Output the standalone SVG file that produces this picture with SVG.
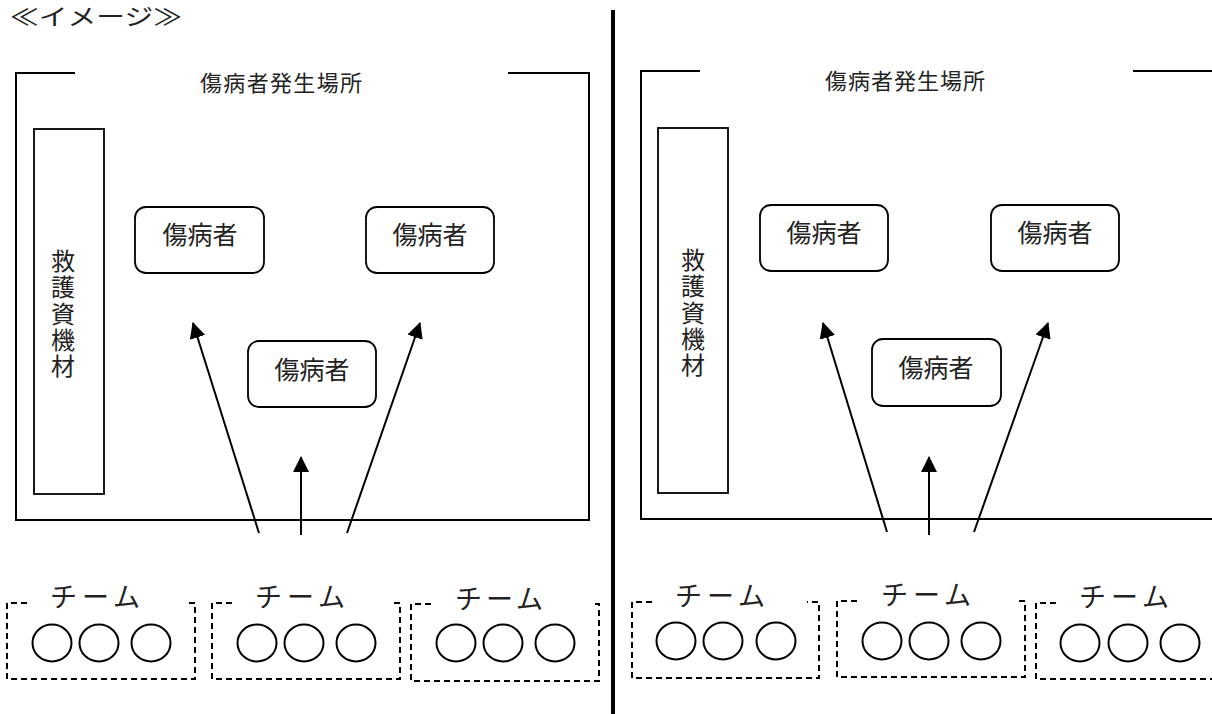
<svg xmlns="http://www.w3.org/2000/svg" width="1212" height="714" viewBox="0 0 1212 714">
<style>
  text { font-family: "Noto Sans CJK JP", "Noto Sans", sans-serif; fill: #222; }
  .frame { fill: none; stroke: #000; stroke-width: 2; }
  .box { fill: #fff; stroke: #000; stroke-width: 1.8; }
  .node { fill: #fff; stroke: #000; stroke-width: 1.8; }
  .lbl { font-size: 25px; text-anchor: middle; }
  .title { font-size: 22px; }
  .vert { font-size: 24px; writing-mode: vertical-rl; letter-spacing: 2.3px; }
  .team { fill: none; stroke: #000; stroke-width: 2; stroke-dasharray: 6 4; }
  .member { fill: #fff; stroke: #000; stroke-width: 2; }
  .tlbl { font-size: 27px; text-anchor: middle; }
  .arrow { fill: none; stroke: #000; stroke-width: 2; marker-end: url(#ah); }
</style>
<defs>
  <marker id="ah" markerUnits="userSpaceOnUse" markerWidth="16" markerHeight="16" viewBox="0 0 16 16" refX="15" refY="8" orient="auto">
    <path d="M0,0 L16,8 L0,16 z" fill="#000"/>
  </marker>
</defs>
<rect width="1212" height="714" fill="#fff"/>

<text x="10" y="25" font-size="23" textLength="172" lengthAdjust="spacingAndGlyphs">≪イメージ≫</text>

<!-- divider -->
<line x1="613" y1="10" x2="613" y2="714" stroke="#000" stroke-width="4"/>

<!-- LEFT PANEL -->
<g id="site-left">
  <path class="frame" d="M75,73 L16,73 L16,520 L589,520 L589,73 L508,73"/>
  <text class="title" x="200" y="91" textLength="162" lengthAdjust="spacing">傷病者発生場所</text>
</g>
<g id="equipment-left">
  <rect class="box" x="34" y="129" width="70" height="365"/>
  <text class="vert" x="63" y="249">救護資機材</text>
</g>
<g id="patient-l1">
  <rect class="node" x="135" y="207" width="129" height="66" rx="11"/>
  <text class="lbl" x="200" y="244">傷病者</text>
</g>
<g id="patient-l2">
  <rect class="node" x="366" y="207" width="128" height="66" rx="11"/>
  <text class="lbl" x="430" y="244">傷病者</text>
</g>
<g id="patient-l3">
  <rect class="node" x="248" y="341" width="128" height="66" rx="11"/>
  <text class="lbl" x="312" y="379">傷病者</text>
</g>

<!-- RIGHT PANEL -->
<g id="site-right">
  <path class="frame" d="M700,71 L641,71 L641,519 L1212,519"/>
  <line class="frame" x1="1133" y1="71" x2="1212" y2="71"/>
  <text class="title" x="825" y="89" textLength="160" lengthAdjust="spacing">傷病者発生場所</text>
</g>
<g id="equipment-right">
  <rect class="box" x="658" y="128" width="70" height="365"/>
  <text class="vert" x="693" y="248">救護資機材</text>
</g>
<g id="patient-r1">
  <rect class="node" x="760" y="205" width="128" height="66" rx="11"/>
  <text class="lbl" x="824" y="242">傷病者</text>
</g>
<g id="patient-r2">
  <rect class="node" x="991" y="205" width="128" height="66" rx="11"/>
  <text class="lbl" x="1055" y="242">傷病者</text>
</g>
<g id="patient-r3">
  <rect class="node" x="872" y="339" width="129" height="67" rx="11"/>
  <text class="lbl" x="936" y="377">傷病者</text>
</g>

<!-- TEAMS -->
<g id="team-1">
  <path class="team" d="M27,603 L7,603 L7,679 L195,679 L195,603 L187,603"/>
  <text class="tlbl" x="95" y="607" textLength="90" lengthAdjust="spacing">チーム</text>
  <ellipse class="member" cx="52" cy="643" rx="19.5" ry="18.5"/>
  <ellipse class="member" cx="99" cy="643" rx="19.5" ry="18.5"/>
  <ellipse class="member" cx="151" cy="643" rx="19.5" ry="18.5"/>
</g>
<g id="team-2">
  <path class="team" d="M232,603 L212,603 L212,679 L400,679 L400,603 L392,603"/>
  <text class="tlbl" x="300" y="607" textLength="90" lengthAdjust="spacing">チーム</text>
  <ellipse class="member" cx="257" cy="643" rx="19.5" ry="18.5"/>
  <ellipse class="member" cx="304" cy="643" rx="19.5" ry="18.5"/>
  <ellipse class="member" cx="356" cy="643" rx="19.5" ry="18.5"/>
</g>
<g id="team-3">
  <path class="team" d="M431,604 L411,604 L411,681 L599,681 L599,604 L591,604"/>
  <text class="tlbl" x="499" y="609" textLength="88" lengthAdjust="spacing">チーム</text>
  <ellipse class="member" cx="456" cy="643" rx="19.5" ry="18.5"/>
  <ellipse class="member" cx="503" cy="643" rx="19.5" ry="18.5"/>
  <ellipse class="member" cx="555" cy="643" rx="19.5" ry="18.5"/>
</g>
<g id="team-4">
  <path class="team" d="M652,602 L632,602 L632,678 L819,678 L819,602 L807,602"/>
  <text class="tlbl" x="720" y="606" textLength="90" lengthAdjust="spacing">チーム</text>
  <ellipse class="member" cx="676" cy="641" rx="19.5" ry="18.5"/>
  <ellipse class="member" cx="723" cy="641" rx="19.5" ry="18.5"/>
  <ellipse class="member" cx="776" cy="641" rx="19.5" ry="18.5"/>
</g>
<g id="team-5">
  <path class="team" d="M857,601 L837,601 L837,677 L1025,677 L1025,601 L1017,601"/>
  <text class="tlbl" x="926" y="605" textLength="90" lengthAdjust="spacing">チーム</text>
  <ellipse class="member" cx="882" cy="641" rx="19.5" ry="18.5"/>
  <ellipse class="member" cx="929" cy="641" rx="19.5" ry="18.5"/>
  <ellipse class="member" cx="981" cy="641" rx="19.5" ry="18.5"/>
</g>
<g id="team-6">
  <path class="team" d="M1056,603 L1036,603 L1036,679 L1214,679"/>
  <text class="tlbl" x="1124" y="607" textLength="90" lengthAdjust="spacing">チーム</text>
  <ellipse class="member" cx="1080" cy="643" rx="19.5" ry="18.5"/>
  <ellipse class="member" cx="1128" cy="643" rx="19.5" ry="18.5"/>
  <ellipse class="member" cx="1180" cy="643" rx="19.5" ry="18.5"/>
</g>

<!-- CONNECTORS -->
<g id="connectors">
  <line class="arrow" x1="259" y1="533" x2="193" y2="323"/>
  <line class="arrow" x1="301" y1="535" x2="301" y2="457"/>
  <line class="arrow" x1="347" y1="533" x2="420" y2="323"/>
  <line class="arrow" x1="887" y1="532" x2="823" y2="323"/>
  <line class="arrow" x1="929" y1="535" x2="929" y2="457"/>
  <line class="arrow" x1="974" y1="532" x2="1048" y2="323"/>
</g>
</svg>
